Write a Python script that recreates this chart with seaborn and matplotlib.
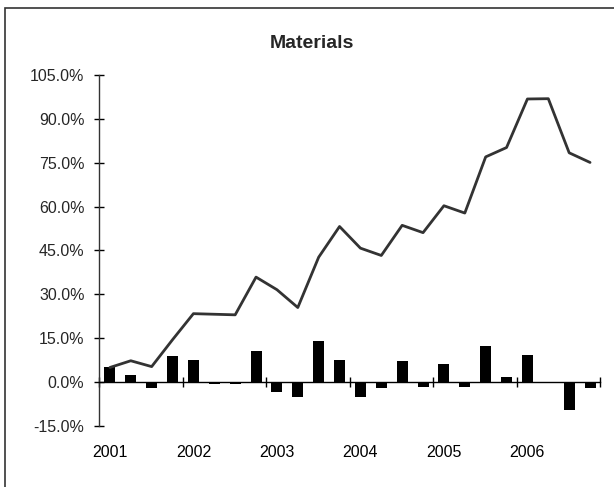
import numpy as np
import pandas as pd
import matplotlib
matplotlib.use("Agg")
import matplotlib.pyplot as plt
import seaborn as sns
from matplotlib.patches import Rectangle
from matplotlib.ticker import FuncFormatter

# quarterly data 2001Q1 - 2006Q4
years = ["2001", "2002", "2003", "2004", "2005", "2006"]
quarters = [y + "Q" + str(q) for y in years for q in range(1, 5)]
quarterly_ret = [5.0, 2.3, -2.0, 8.8, 7.7, -0.6, -0.6, 10.6, -3.3, -5.0, 13.9, 7.4,
                 -5.0, -2.0, 7.2, -1.8, 6.3, -1.7, 12.2, 1.9, 9.1, 0.0, -9.7, -2.0]
cumulative_ret = [5.0, 7.3, 5.3, 14.5, 23.4, 23.2, 23.0, 35.9, 31.6, 25.5, 42.7, 53.2,
                  45.8, 43.3, 53.6, 51.1, 60.3, 57.8, 77.0, 80.2, 96.8, 96.9, 78.4, 75.1]
y_ticks = [-15, 0, 15, 30, 45, 60, 75, 90, 105]

df = pd.DataFrame({"quarter": quarters, "qret": quarterly_ret, "cum": cumulative_ret})
df["pos"] = np.arange(len(df))

sns.set_style("white")
plt.rcParams["font.family"] = ["Liberation Sans", "DejaVu Sans"]

fig = plt.figure(figsize=(6.14, 4.87), dpi=100)
ax = fig.add_axes([0.162, 0.1253, 0.816, 0.7207])

sns.barplot(data=df, x="quarter", y="qret", color="black", width=0.53,
            saturation=1, linewidth=0, ax=ax)
sns.lineplot(data=df, x="pos", y="cum", color="#333333", linewidth=2, ax=ax)

ax.set_xlim(-0.5, len(df) - 0.5)
ax.set_ylim(-15, 105)
ax.set_yticks(y_ticks)
ax.yaxis.set_major_formatter(FuncFormatter(lambda v, p: f"{v:.1f}%"))
ax.set_xlabel("")
ax.set_ylabel("")

# axes lines
for s in ["top", "right"]:
    ax.spines[s].set_visible(False)
ax.spines["bottom"].set_position(("data", 0))
ax.spines["bottom"].set_color("black")
ax.spines["left"].set_color("#333333")
ax.spines["bottom"].set_linewidth(1)
ax.spines["left"].set_linewidth(1)

# year boundaries as major ticks, year names as minor labels
ax.set_xticks(np.arange(-0.5, len(df), 4))
ax.set_xticklabels([])
ax.set_xticks(np.arange(0, len(df), 4), minor=True)
ax.set_xticklabels(years, minor=True)
ax.tick_params(axis="x", which="major", direction="inout", length=7, width=1,
               color="black", bottom=True)
ax.tick_params(axis="x", which="minor", length=0, pad=45.5, labelsize=11.5,
               labelcolor="black", bottom=True)
ax.tick_params(axis="y", direction="inout", length=7.2, width=1, pad=7.2,
               labelsize=11.5, color="black", left=True)

fig.text(0.508, 0.911, "Materials", ha="center", va="center", fontsize=14,
         fontweight="bold", family=["Liberation Sans Narrow", "Liberation Sans"])

# chart frame
fig.patches.append(Rectangle((5 / 614, -0.1), 2, 1.1 - 8.3 / 487, fill=False,
                             edgecolor="#333333", linewidth=1.2,
                             transform=fig.transFigure))

fig.savefig("out.png", dpi=100)
